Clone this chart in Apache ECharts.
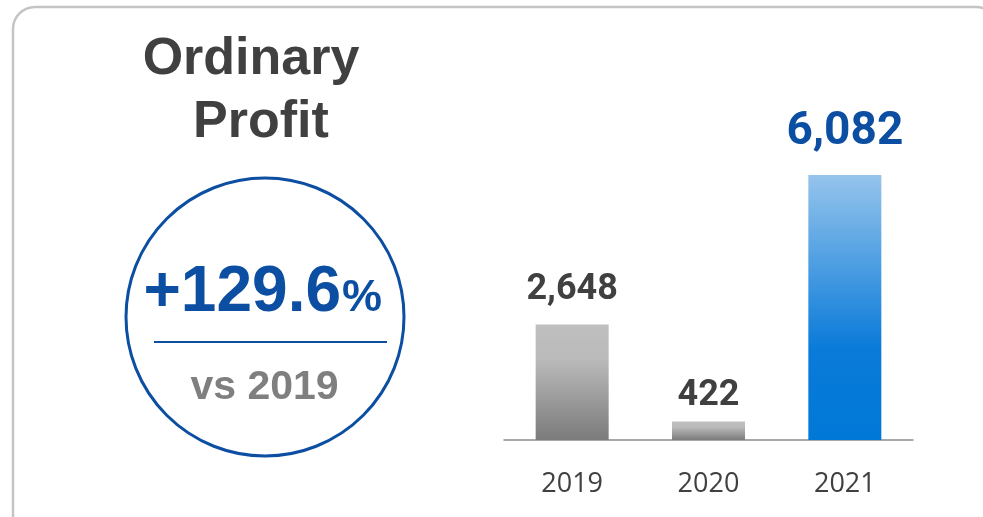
<!DOCTYPE html>
<html>
<head>
<meta charset="utf-8">
<script src="https://cdn.jsdelivr.net/npm/echarts@6/dist/echarts.min.js"></script>
<style>
html,body{margin:0;padding:0;background:#ffffff;}
#c{width:983px;height:517px;}
</style>
</head>
<body>
<div id="c"></div>
<script>
const categories = ['2019', '2020', '2021'];
const values = [2648, 422, 6082];
const valueLabels = ['2,648', '422', '6,082'];
const titleLines = ['Ordinary', 'Profit'];
const changeText = '+129.6';
const changeUnit = '%';
const compareText = 'vs 2019';

const chart = echarts.init(document.getElementById('c'), null, {renderer: 'canvas'});

const grayGrad = new echarts.graphic.LinearGradient(0, 0, 0, 1, [
  {offset: 0, color: '#bfbfbf'},
  {offset: 0.3, color: '#bababa'},
  {offset: 1, color: '#7b7b7b'}
]);
const blueGrad = new echarts.graphic.LinearGradient(0, 0, 0, 1, [
  {offset: 0, color: '#95c4ec'},
  {offset: 0.65, color: '#0b7bd9'},
  {offset: 1, color: '#0078d7'}
]);
const labelDist = [17, 8, 20];

const data = values.map((v, i) => ({
  value: v,
  itemStyle: {color: i === 2 ? blueGrad : grayGrad},
  label: {
    show: true,
    position: 'top',
    distance: labelDist[i],
    formatter: valueLabels[i],
    fontFamily: 'Roboto',
    fontWeight: 'bold',
    fontSize: i === 2 ? 46 : 36,
    color: i === 2 ? '#0b4ea2' : '#404040'
  }
}));

chart.setOption({
  animation: false,
  backgroundColor: '#ffffff',
  grid: {left: 504, right: 70, top: 175, bottom: 77},
  xAxis: {
    type: 'category',
    data: categories,
    axisLine: {lineStyle: {color: '#8c8c8c', width: 1.5}},
    axisTick: {show: false},
    axisLabel: {fontFamily: 'Open Sans', fontSize: 27, color: '#404040', margin: 31}
  },
  yAxis: {
    type: 'value', min: 0, max: 'dataMax', show: false, splitLine: {show: false}
  },
  series: [{
    type: 'bar',
    data: data,
    barWidth: 73
  }],
  graphic: [
    {type: 'rect', shape: {x: 13, y: 7, width: 985, height: 530, r: 22},
     style: {fill: 'none', stroke: '#c4c4c4', lineWidth: 2.5}, z: -1},
    {type: 'text', x: 251, y: 60, style: {text: titleLines[0], fill: '#404040', font: 'bold 52px "Liberation Sans"', align: 'center', verticalAlign: 'middle'}},
    {type: 'text', x: 261, y: 123, style: {text: titleLines[1], fill: '#404040', font: 'bold 52px "Liberation Sans"', align: 'center', verticalAlign: 'middle'}},
    {type: 'circle', shape: {cx: 265, cy: 317, r: 139}, style: {fill: 'none', stroke: '#0b4ea2', lineWidth: 3}},
    {type: 'text', x: 341, y: 293, style: {text: changeText, fill: '#0b4ea2', font: 'bold 64px "Liberation Sans"', align: 'right', verticalAlign: 'middle'}},
    {type: 'text', x: 342, y: 299, style: {text: changeUnit, fill: '#0b4ea2', font: 'bold 45px "Liberation Sans"', align: 'left', verticalAlign: 'middle'}},
    {type: 'line', shape: {x1: 154, y1: 342, x2: 387, y2: 342}, style: {stroke: '#0b4ea2', lineWidth: 2}},
    {type: 'text', x: 264.5, y: 388, style: {text: compareText, fill: '#7f7f7f', font: 'bold 41px "Liberation Sans"', align: 'center', verticalAlign: 'middle'}}
  ]
});
</script>
</body>
</html>
